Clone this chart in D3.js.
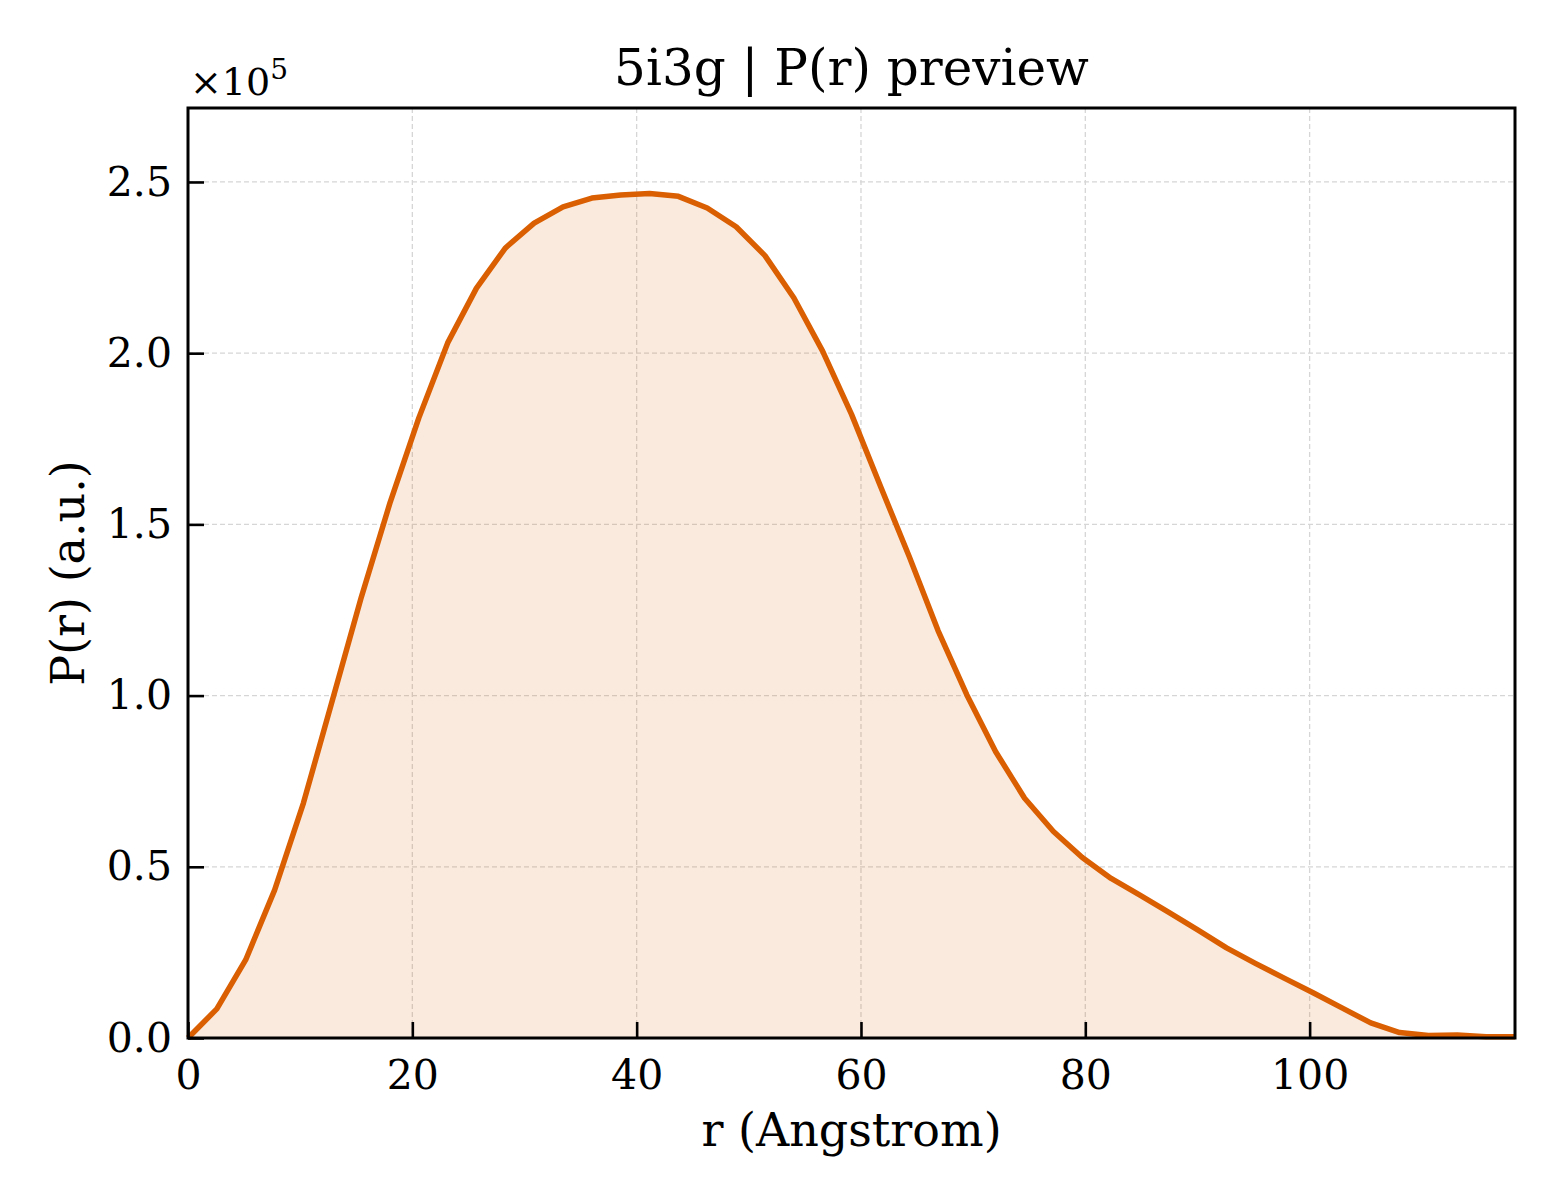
<!DOCTYPE html>
<html>
<head>
<meta charset="utf-8">
<script src="https://cdn.jsdelivr.net/npm/d3@7"></script>
<style>
  html, body { margin: 0; padding: 0; background: #fff; }
  svg text { font-family: "DejaVu Serif", serif; fill: #000; }
</style>
</head>
<body>
<div id="chart"></div>
<script>
// P(r) preview for 5i3g
const rValues = [0, 2.57, 5.14, 7.72, 10.29, 12.86, 15.43, 18.00, 20.58, 23.15,
    25.72, 28.29, 30.86, 33.44, 36.01, 38.58, 41.15, 43.72, 46.29, 48.87,
    51.44, 54.01, 56.58, 59.15, 61.73, 64.30, 66.87, 69.44, 72.01, 74.59,
    77.16, 79.73, 82.30, 84.87, 87.45, 90.02, 92.59, 95.16, 97.73, 100.31,
    102.88, 105.45, 108.02, 110.59, 113.17, 115.74, 118.31];
const prValues = [0, 8500, 22800, 43200, 68600, 98500, 128500, 156200, 181100, 203000,
    219000, 230700, 238000, 242700, 245300, 246200, 246600, 245800, 242400, 236900,
    228500, 216200, 200600, 182200, 161200, 140600, 119000, 100200, 83600, 70000,
    60300, 52700, 46600, 41700, 36700, 31600, 26300, 21800, 17500, 13200,
    8800, 4400, 1600, 700, 900, 400, 400];
const xTicks = [0, 20, 40, 60, 80, 100];
const yTicks = [0, 50000, 100000, 150000, 200000, 250000];

const W = 1560, H = 1200;
const margin = { top: 108, right: 45, bottom: 162, left: 188 };
const lineColor = '#d95f02';

const data = rValues.map((r, i) => ({ r, p: prValues[i] }));

const svg = d3.select('#chart').append('svg')
    .attr('width', W)
    .attr('height', H);

const x = d3.scaleLinear()
    .domain([0, d3.max(rValues)])
    .range([margin.left, W - margin.right]);

const y = d3.scaleLinear()
    .domain([0, 271600])
    .range([H - margin.bottom, margin.top]);

// grid
svg.append('g')
    .selectAll('line')
    .data(xTicks.filter(d => d > 0))
    .join('line')
    .attr('x1', d => x(d)).attr('x2', d => x(d))
    .attr('y1', margin.top).attr('y2', H - margin.bottom)
    .attr('stroke', '#d6d6d6').attr('stroke-width', 1.3)
    .attr('stroke-dasharray', '5,3');

svg.append('g')
    .selectAll('line')
    .data(yTicks.filter(d => d > 0))
    .join('line')
    .attr('x1', margin.left).attr('x2', W - margin.right)
    .attr('y1', d => y(d)).attr('y2', d => y(d))
    .attr('stroke', '#d6d6d6').attr('stroke-width', 1.3)
    .attr('stroke-dasharray', '5,3');

// fill + line
svg.append('path')
    .datum(data)
    .attr('fill', lineColor)
    .attr('fill-opacity', 0.13)
    .attr('d', d3.area().x(d => x(d.r)).y0(y(0)).y1(d => y(d.p)));

svg.append('path')
    .datum(data)
    .attr('fill', 'none')
    .attr('stroke', lineColor)
    .attr('stroke-width', 5.5)
    .attr('stroke-linejoin', 'round')
    .attr('d', d3.line().x(d => x(d.r)).y(d => y(d.p)));

// axes, ticks pointing inward
const xAxis = svg.append('g')
    .attr('transform', `translate(0,${H - margin.bottom})`)
    .call(d3.axisBottom(x).tickValues(xTicks).tickSize(-16).tickPadding(22).tickFormat(d3.format('d')));
xAxis.select('.domain').remove();
xAxis.selectAll('line').attr('stroke-width', 2.6);
xAxis.selectAll('text').attr('font-size', 41).attr('dy', '0.71em');

const yAxis = svg.append('g')
    .attr('transform', `translate(${margin.left},0)`)
    .call(d3.axisLeft(y).tickValues(yTicks).tickSize(-16).tickPadding(16).tickFormat(d => (d / 1e5).toFixed(1)));
yAxis.select('.domain').remove();
yAxis.selectAll('line').attr('stroke-width', 2.6);
yAxis.selectAll('text').attr('font-size', 41);

// frame
svg.append('rect')
    .attr('x', margin.left).attr('y', margin.top)
    .attr('width', W - margin.left - margin.right)
    .attr('height', H - margin.top - margin.bottom)
    .attr('fill', 'none').attr('stroke', '#000').attr('stroke-width', 3);

// offset text
const off = svg.append('text')
    .attr('x', 190).attr('y', 95)
    .attr('font-size', 38);
off.append('tspan').text('\u00d710');
off.append('tspan').attr('dy', -16).attr('font-size', 28).text('5');

// labels
svg.append('text')
    .attr('x', (margin.left + W - margin.right) / 2)
    .attr('y', 1146)
    .attr('text-anchor', 'middle')
    .attr('font-size', 46)
    .text('r (Angstrom)');

svg.append('text')
    .attr('transform', `translate(84,${(margin.top + H - margin.bottom) / 2}) rotate(-90)`)
    .attr('text-anchor', 'middle')
    .attr('font-size', 46)
    .text('P(r) (a.u.)');

svg.append('text')
    .attr('x', (margin.left + W - margin.right) / 2)
    .attr('y', 85)
    .attr('text-anchor', 'middle')
    .attr('font-size', 50)
    .text('5i3g | P(r) preview');
</script>
</body>
</html>
